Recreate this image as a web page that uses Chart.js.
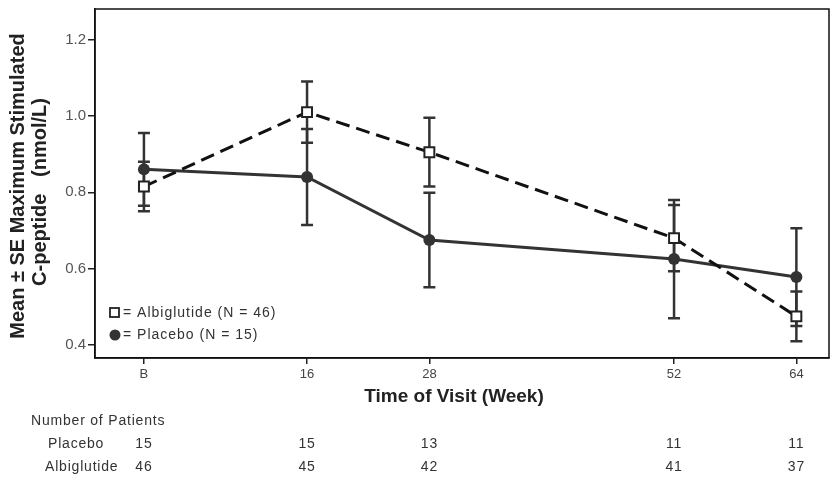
<!DOCTYPE html>
<html>
<head>
<meta charset="utf-8">
<script src="https://cdn.jsdelivr.net/npm/chart.js@4.4.1/dist/chart.umd.min.js"></script>
<style>
  html, body { margin: 0; padding: 0; background: #fff; }
  #wrap { width: 833px; height: 485px; position: relative; }
</style>
</head>
<body>
<div id="wrap"><canvas id="cpepChart" width="833" height="485"></canvas></div>
<script>
// visit weeks (B = baseline) and their tick labels
var weeks = [0, 16, 28, 52, 64];
var weekLabels = ['B', '16', '28', '52', '64'];
var yTicks = [0.4, 0.6, 0.8, 1.0, 1.2];

// mean and SE of max stimulated C-peptide
var albiMean = [0.815, 1.01, 0.905, 0.68, 0.475];
var albiSE = [0.065, 0.08, 0.09, 0.087, 0.065];
var placeboMean = [0.86, 0.84, 0.675, 0.625, 0.578];
var placeboSE = [0.095, 0.126, 0.124, 0.155, 0.128];

// number of patients per visit
var placeboN = [15, 15, 13, 11, 11];
var albiN = [46, 45, 42, 41, 37];

var FONT = "'Liberation Sans', Arial, sans-serif";

function toPoints(means) {
    return weeks.map(function (w, i) { return { x: w, y: means[i] }; });
}

// error bars, frame, titles, legend and patient table
var extras = {
    id: 'extras',
    beforeDatasetsDraw: function (chart) {
        var ctx = chart.ctx, xs = chart.scales.x, ys = chart.scales.y;
        var sets = [[placeboMean, placeboSE], [albiMean, albiSE]];
        ctx.save();
        ctx.strokeStyle = '#333';
        ctx.lineWidth = 2.5;
        sets.forEach(function (s) {
            weeks.forEach(function (w, i) {
                var px = xs.getPixelForValue(w);
                var top = ys.getPixelForValue(s[0][i] + s[1][i]);
                var bot = ys.getPixelForValue(s[0][i] - s[1][i]);
                ctx.beginPath();
                ctx.moveTo(px, top); ctx.lineTo(px, bot);
                ctx.moveTo(px - 6, top); ctx.lineTo(px + 6, top);
                ctx.moveTo(px - 6, bot); ctx.lineTo(px + 6, bot);
                ctx.stroke();
            });
        });
        ctx.restore();
    },
    afterDraw: function (chart) {
        var ctx = chart.ctx, a = chart.chartArea, xs = chart.scales.x;
        ctx.save();
        // box around plot
        ctx.strokeStyle = '#111';
        ctx.lineWidth = 1.5;
        ctx.strokeRect(a.left, a.top, a.right - a.left, a.bottom - a.top);

        // axis titles
        ctx.fillStyle = '#222';
        ctx.textAlign = 'center';
        ctx.textBaseline = 'middle';
        ctx.font = 'bold 19px ' + FONT;
        ctx.fillText('Time of Visit (Week)', 454, 397);
        ctx.save();
        ctx.translate(18, 186);
        ctx.rotate(-Math.PI / 2);
        ctx.font = 'bold 20px ' + FONT;
        ctx.fillText('Mean \u00b1 SE Maximum Stimulated', 0, 0);
        ctx.fillText('C-peptide   (nmol/L)', -6, 22);
        ctx.restore();

        // legend inside plot
        ctx.font = '14px ' + FONT;
        ctx.letterSpacing = '1px';
        ctx.textAlign = 'left';
        ctx.lineWidth = 1.8;
        ctx.strokeStyle = '#222';
        ctx.fillStyle = '#fff';
        ctx.fillRect(110, 308, 9, 9);
        ctx.strokeRect(110, 308, 9, 9);
        ctx.fillStyle = '#333';
        ctx.beginPath();
        ctx.arc(115, 335, 5.5, 0, Math.PI * 2);
        ctx.fill();
        ctx.fillText('= Albiglutide (N = 46)', 123, 313);
        ctx.fillText('= Placebo (N = 15)', 123, 335);

        // patient counts table
        ctx.letterSpacing = '0.8px';
        ctx.font = '14px ' + FONT;
        ctx.fillText('Number of Patients', 31, 421);
        ctx.fillText('Placebo', 48, 444);
        ctx.fillText('Albiglutide', 45, 467);
        ctx.textAlign = 'center';
        weeks.forEach(function (w, i) {
            var px = xs.getPixelForValue(w);
            ctx.fillText(String(placeboN[i]), px, 444);
            ctx.fillText(String(albiN[i]), px, 467);
        });
        ctx.restore();
    }
};

var ctx = document.getElementById('cpepChart').getContext('2d');
var cpepChart = new Chart(ctx, {
    type: 'line',
    data: {
        datasets: [
            {
                label: 'Albiglutide (N = 46)',
                data: toPoints(albiMean),
                borderColor: '#111',
                borderWidth: 3,
                borderDash: [14, 7],
                pointStyle: 'rect',
                pointRadius: 7,
                pointBorderWidth: 2,
                pointBorderColor: '#222',
                pointBackgroundColor: '#fff',
                fill: false,
                tension: 0
            },
            {
                label: 'Placebo (N = 15)',
                data: toPoints(placeboMean),
                borderColor: '#333',
                borderWidth: 3,
                pointStyle: 'circle',
                pointRadius: 6,
                pointBorderWidth: 0,
                pointBackgroundColor: '#333',
                fill: false,
                tension: 0
            }
        ]
    },
    options: {
        responsive: false,
        animation: false,
        layout: { autoPadding: false, padding: { top: 9, right: 4, left: 0, bottom: 0 } },
        plugins: { legend: { display: false }, tooltip: { enabled: false } },
        scales: {
            x: {
                type: 'linear',
                min: -4.8,
                max: 67.2,
                afterBuildTicks: function (s) {
                    s.ticks = weeks.map(function (w) { return { value: w }; });
                },
                afterFit: function (s) {
                    s.height = 127;
                    s.paddingLeft = 0;
                    s.paddingRight = 0;
                },
                ticks: {
                    autoSkip: false,
                    maxRotation: 0,
                    padding: 3,
                    color: '#444',
                    font: { family: FONT, size: 13 },
                    callback: function (v) { return weekLabels[weeks.indexOf(v)]; }
                },
                grid: { drawOnChartArea: false, drawTicks: true, tickLength: 6, color: '#222', lineWidth: 1.5 },
                border: { display: true, color: '#111', width: 1.5 }
            },
            y: {
                min: 0.366,
                max: 1.28,
                afterBuildTicks: function (s) {
                    s.ticks = yTicks.map(function (v) { return { value: v }; });
                },
                afterFit: function (s) {
                    s.width = 95;
                    s.paddingTop = 0;
                    s.paddingBottom = 0;
                },
                ticks: {
                    padding: 2,
                    color: '#555',
                    font: { family: FONT, size: 15 },
                    callback: function (v) { return v.toFixed(1); }
                },
                grid: { drawOnChartArea: false, drawTicks: true, tickLength: 7, color: '#222', lineWidth: 1.5 },
                border: { display: true, color: '#111', width: 1.5 }
            }
        }
    },
    plugins: [extras]
});
</script>
</body>
</html>
